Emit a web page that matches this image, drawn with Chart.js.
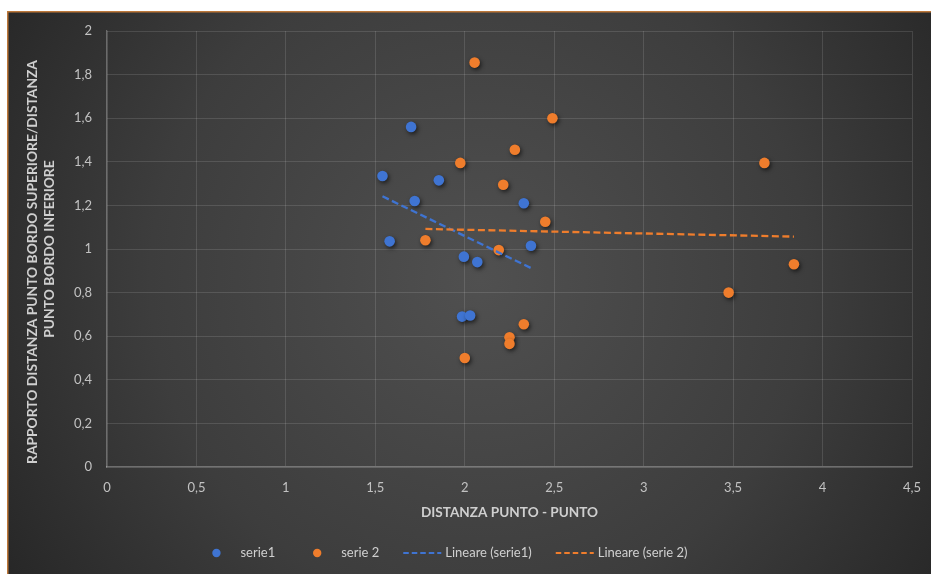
<!DOCTYPE html>
<html>
<head>
<meta charset="utf-8">
<script src="https://cdn.jsdelivr.net/npm/chart.js@4/dist/chart.umd.min.js"></script>
<style>
  html, body { margin: 0; padding: 0; background: #fff; overflow: hidden; }
  #wrap { position: relative; width: 931px; height: 574px; }
</style>
</head>
<body>
<div id="wrap"><canvas id="c"></canvas></div>
<script>
// Measurements: distance point-point (x) vs. ratio of distances to upper/lower edge (y)
const serie1X = [1.70, 1.54, 1.855, 1.72, 2.33, 1.58, 2.37, 1.995, 2.07, 1.985, 2.03];
const serie1Y = [1.56, 1.335, 1.315, 1.22, 1.21, 1.035, 1.015, 0.965, 0.94, 0.69, 0.695];

const serie2X = [2.055, 2.49, 2.28, 1.975, 2.215, 2.45, 1.78, 2.19, 2.33, 2.25, 2.25, 2.00, 3.675, 3.84, 3.475];
const serie2Y = [1.855, 1.60, 1.455, 1.395, 1.295, 1.125, 1.04, 0.995, 0.655, 0.595, 0.565, 0.50, 1.395, 0.93, 0.80];

const seriesNames = ['serie1', 'serie 2', 'Lineare (serie1)', 'Lineare (serie 2)'];
const xTickLabels = ['0', '0,5', '1', '1,5', '2', '2,5', '3', '3,5', '4', '4,5'];
const yTickLabels = ['0', '0,2', '0,4', '0,6', '0,8', '1', '1,2', '1,4', '1,6', '1,8', '2'];
const xTitle = 'DISTANZA PUNTO - PUNTO';
const yTitle = ['RAPPORTO DISTANZA PUNTO BORDO SUPERIORE/DISTANZA', 'PUNTO BORDO INFERIORE'];

const BLUE = '#3f74d2';
const ORANGE = '#ef7d2c';
const FONT = 'Lato, "Open Sans", sans-serif';
const TITLE_COLOR = '#cfcfcf';

// least-squares trend line spanning the series' x range
function trendLine(xs, ys) {
  const n = xs.length;
  const mx = xs.reduce((a, b) => a + b, 0) / n;
  const my = ys.reduce((a, b) => a + b, 0) / n;
  let sxy = 0, sxx = 0;
  for (let i = 0; i < n; i++) {
    sxy += (xs[i] - mx) * (ys[i] - my);
    sxx += (xs[i] - mx) * (xs[i] - mx);
  }
  const b = sxy / sxx, a = my - b * mx;
  const x0 = Math.min(...xs), x1 = Math.max(...xs);
  return [{ x: x0, y: a + b * x0 }, { x: x1, y: a + b * x1 }];
}

const toPoints = (xs, ys) => xs.map((x, i) => ({ x, y: ys[i] }));

// dark radial backdrop with the thin frame on top/left
const backdrop = {
  id: 'backdrop',
  beforeDraw(chart) {
    const { ctx, width, height } = chart;
    ctx.save();
    ctx.fillStyle = '#ffffff';
    ctx.fillRect(0, 0, width, height);
    const g = ctx.createRadialGradient(480, 280, 0, 480, 280, 600);
    g.addColorStop(0, '#505050');
    g.addColorStop(0.55, '#3d3d3d');
    g.addColorStop(1, '#232323');
    ctx.fillStyle = g;
    ctx.fillRect(7, 11, width - 7, height - 11);
    ctx.fillStyle = '#bd783a';
    ctx.fillRect(7, 11, width - 7, 1.5);
    ctx.fillRect(7, 11, 1.5, height - 11);
    ctx.restore();
  }
};

// soft drop shadow under the markers
const markerShadow = {
  id: 'markerShadow',
  beforeDatasetDraw(chart, args) {
    if (chart.data.datasets[args.index].showLine) return;
    const ctx = chart.ctx;
    ctx.save();
    ctx.shadowColor = 'rgba(0,0,0,0.6)';
    ctx.shadowBlur = 4;
    ctx.shadowOffsetX = 1.5;
    ctx.shadowOffsetY = 2;
  },
  afterDatasetDraw(chart, args) {
    if (chart.data.datasets[args.index].showLine) return;
    chart.ctx.restore();
  }
};

// rotated two-line title of the value axis
const valueAxisTitle = {
  id: 'valueAxisTitle',
  afterDraw(chart) {
    const { ctx } = chart;
    const lines = [
      { text: yTitle[0], x: 33, y: 262 },
      { text: yTitle[1], x: 50, y: 249 }
    ];
    ctx.save();
    ctx.font = 'bold 13.8px ' + FONT;
    ctx.fillStyle = TITLE_COLOR;
    ctx.textAlign = 'center';
    ctx.textBaseline = 'middle';
    lines.forEach(l => {
      ctx.save();
      ctx.translate(l.x, l.y);
      ctx.rotate(-Math.PI / 2);
      ctx.fillText(l.text, 0, 0);
      ctx.restore();
    });
    ctx.restore();
  }
};

// legend row along the bottom edge
const bottomKey = {
  id: 'bottomKey',
  afterDraw(chart) {
    const { ctx } = chart;
    const ds = chart.data.datasets;
    const box = 40, gap = 4, spacing = 22, cy = 553, centerX = 442;
    ctx.save();
    ctx.font = '13px ' + FONT;
    ctx.textBaseline = 'middle';
    const widths = ds.map(d => ctx.measureText(d.label).width);
    const total = widths.reduce((a, w) => a + w + box + gap, 0) + spacing * (ds.length - 1);
    let x = centerX - total / 2;
    ds.forEach((d, i) => {
      if (d.showLine) {
        ctx.strokeStyle = d.borderColor;
        ctx.lineWidth = 2;
        ctx.setLineDash([5.5, 3]);
        ctx.beginPath();
        ctx.moveTo(x + 2, cy);
        ctx.lineTo(x + box, cy);
        ctx.stroke();
        ctx.setLineDash([]);
      } else {
        ctx.fillStyle = d.backgroundColor;
        ctx.beginPath();
        ctx.arc(x + box / 2, cy, 4.2, 0, Math.PI * 2);
        ctx.fill();
      }
      ctx.fillStyle = '#d0d0d0';
      ctx.fillText(d.label, x + box + gap, cy);
      x += box + gap + widths[i] + spacing;
    });
    ctx.restore();
  }
};

const lineStyle = color => ({
  showLine: true,
  borderColor: color,
  backgroundColor: color,
  borderWidth: 2.3,
  borderDash: [7, 3.5],
  pointRadius: 0,
  fill: false
});

new Chart(document.getElementById('c'), {
  type: 'scatter',
  data: {
    datasets: [
      { label: seriesNames[0], data: toPoints(serie1X, serie1Y), backgroundColor: BLUE, borderColor: BLUE,
        borderWidth: 0, pointRadius: 5.3, order: 3 },
      { label: seriesNames[1], data: toPoints(serie2X, serie2Y), backgroundColor: ORANGE, borderColor: ORANGE,
        borderWidth: 0, pointRadius: 5.3, order: 2 },
      Object.assign({ label: seriesNames[2], data: trendLine(serie1X, serie1Y), order: 1 }, lineStyle(BLUE)),
      Object.assign({ label: seriesNames[3], data: trendLine(serie2X, serie2Y), order: 0 }, lineStyle(ORANGE))
    ]
  },
  options: {
    responsive: true,
    maintainAspectRatio: false,
    animation: false,
    events: [],
    layout: { padding: { left: 8, top: 31, right: 19, bottom: 38 } },
    plugins: {
      legend: { display: false },
      tooltip: { enabled: false }
    },
    scales: {
      x: {
        type: 'linear',
        min: 0, max: 4.5,
        afterBuildTicks: s => { s.ticks = xTickLabels.map((_, i) => ({ value: i * 0.5 })); },
        afterFit: s => { s.height = 69; s.paddingRight = 0; s.paddingLeft = 0; },
        ticks: {
          callback: (v, i) => xTickLabels[i],
          color: '#c2c2c2',
          font: { family: FONT, size: 13 },
          padding: 13,
          maxRotation: 0,
          autoSkip: false
        },
        grid: { color: 'rgba(255,255,255,0.12)', lineWidth: 1, drawTicks: false },
        border: { color: 'rgba(255,255,255,0.28)', width: 1.2 },
        title: {
          display: true,
          text: xTitle,
          color: TITLE_COLOR,
          font: { family: FONT, size: 13.6, weight: 'bold' },
          padding: { top: 0, bottom: 15.5 }
        }
      },
      y: {
        type: 'linear',
        min: 0, max: 2,
        afterBuildTicks: s => { s.ticks = yTickLabels.map((_, i) => ({ value: i * 0.2 })); },
        afterFit: s => { s.width = 99; },
        ticks: {
          callback: (v, i) => yTickLabels[i],
          color: '#c2c2c2',
          font: { family: FONT, size: 13 },
          padding: 15,
          autoSkip: false
        },
        grid: { color: 'rgba(255,255,255,0.12)', lineWidth: 1, drawTicks: false },
        border: { color: 'rgba(255,255,255,0.28)', width: 1.2 },
        title: { display: false }
      }
    }
  },
  plugins: [backdrop, markerShadow, valueAxisTitle, bottomKey]
});
</script>
</body>
</html>
